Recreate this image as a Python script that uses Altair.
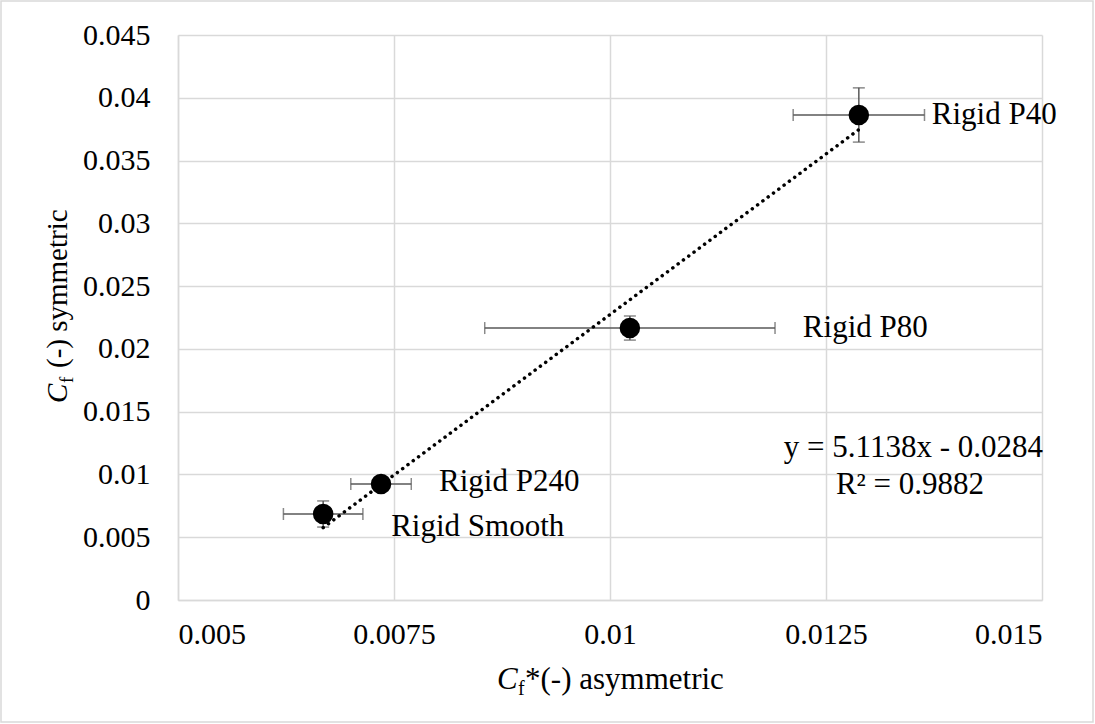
import altair as alt
import pandas as pd

# Skin-friction coefficients per surface: asymmetric (x) vs symmetric (y)
names = ["Rigid Smooth", "Rigid P240", "Rigid P80", "Rigid P40"]
cf_asym = [0.00668, 0.00735, 0.01023, 0.01288]
cf_asym_err = [0.00046, 0.00035, 0.00168, 0.00076]
cf_sym = [0.00685, 0.00924, 0.02166, 0.03863]
cf_sym_err = [0.00104, 0.00030, 0.00096, 0.00216]

# Linear trend reported with the data
slope, intercept, r2 = 5.1138, -0.0284, 0.9882

df = pd.DataFrame({
    "name": names, "x": cf_asym, "xerr": cf_asym_err,
    "y": cf_sym, "yerr": cf_sym_err,
})
df["xlo"] = df.x - df.xerr
df["xhi"] = df.x + df.xerr
df["ylo"] = df.y - df.yerr
df["yhi"] = df.y + df.yerr

trend = pd.DataFrame({"x": [min(cf_asym), max(cf_asym)]})
trend["y"] = slope * trend.x + intercept

L, T = 178, 35
W, H = 864, 565
FONT = "'Liberation Serif', 'DejaVu Serif', serif"
FS = 31
GRID = "#d9d9d9"
ERR = "#595959"

xs = alt.Scale(domain=[0.005, 0.015], nice=False, zero=False)
ys = alt.Scale(domain=[0, 0.045], nice=False)

x_axis = alt.Axis(values=[0.005, 0.0075, 0.01, 0.0125, 0.015], labelExpr="format(datum.value, '.4~f')",
                  title=None, labelPadding=19)
y_axis = alt.Axis(values=[i * 0.005 for i in range(10)], labelExpr="format(datum.value, '.3~f')",
                  title=None, labelPadding=28)

base = alt.Chart(df)
one = alt.Chart(pd.DataFrame({"k": [0]}))

frame = one.mark_rect(fill=None, stroke=GRID, strokeWidth=1.5).encode(
    x=alt.value(1 - L), x2=alt.value(1093 - L), y=alt.value(1 - T), y2=alt.value(722 - T)
)

xbars = base.mark_rule(color=ERR, strokeWidth=1.5).encode(
    x=alt.X("xlo:Q", scale=xs, axis=x_axis), x2="xhi:Q", y=alt.Y("y:Q", scale=ys, axis=y_axis)
)
xcap_lo = base.mark_tick(color=ERR, thickness=1.5, size=12, orient="vertical").encode(
    x=alt.X("xlo:Q", scale=xs), y=alt.Y("y:Q", scale=ys))
xcap_hi = base.mark_tick(color=ERR, thickness=1.5, size=12, orient="vertical").encode(
    x=alt.X("xhi:Q", scale=xs), y=alt.Y("y:Q", scale=ys))

ybars = base.mark_rule(color=ERR, strokeWidth=1.5).encode(
    x=alt.X("x:Q", scale=xs), y=alt.Y("ylo:Q", scale=ys), y2="yhi:Q")
ycap_lo = base.mark_tick(color=ERR, thickness=1.5, size=12, orient="horizontal").encode(
    x=alt.X("x:Q", scale=xs), y=alt.Y("ylo:Q", scale=ys))
ycap_hi = base.mark_tick(color=ERR, thickness=1.5, size=12, orient="horizontal").encode(
    x=alt.X("x:Q", scale=xs), y=alt.Y("yhi:Q", scale=ys))

trend_line = alt.Chart(trend).mark_line(
    color="#000", strokeWidth=3.5, strokeDash=[0.1, 6.5], strokeCap="round"
).encode(x=alt.X("x:Q", scale=xs), y=alt.Y("y:Q", scale=ys))

points = base.mark_circle(color="#000", opacity=1, size=420).encode(
    x=alt.X("x:Q", scale=xs), y=alt.Y("y:Q", scale=ys))

# Point labels, each nudged clear of its marker
offsets = {"Rigid P40": (73, 0), "Rigid P80": (173, 0), "Rigid P240": (58, -2), "Rigid Smooth": (68, 13)}
labels = []
for nm, (ddx, ddy) in offsets.items():
    labels.append(
        base.transform_filter(alt.datum.name == nm).mark_text(
            font=FONT, fontSize=FS, align="left", baseline="middle", dx=ddx, dy=ddy, color="#000"
        ).encode(x=alt.X("x:Q", scale=xs), y=alt.Y("y:Q", scale=ys), text="name:N")
    )

def txt(s, x, y, size=FS, style="normal", align="left", baseline="alphabetic", angle=0):
    return one.mark_text(
        font=FONT, fontSize=size, fontStyle=style, fontWeight="normal", align=align,
        baseline=baseline, angle=angle, color="#000"
    ).encode(x=alt.value(x), y=alt.value(y), text=alt.value(s))

eq = txt(f"y = {slope}x - {abs(intercept)}", W + 1, 413, align="right", baseline="middle")
rsq = txt(f"R² = {r2}", 732, 450, align="center", baseline="middle")

# Axis titles with italic C and subscript f
xt_y = 654
x_title = [
    txt("C", 319, xt_y, style="italic"),
    txt("f", 340, xt_y + 6, size=20),
    txt("*(-) asymmetric", 347, xt_y),
]
yt_x = 67 - L
y_title = [
    txt("C", yt_x, 368, size=29, style="italic", angle=270),
    txt("f", yt_x + 6, 348, size=19, angle=270),
    txt("(-) symmetric", yt_x, 333, size=29, angle=270),
]

chart = alt.layer(
    frame, xbars, xcap_lo, xcap_hi, ybars, ycap_lo, ycap_hi, trend_line, points,
    *labels, eq, rsq, *x_title, *y_title
).properties(
    width=W, height=H,
    padding={"left": L, "top": T, "right": 1095 - L - W, "bottom": 724 - T - H},
    autosize=alt.AutoSizeParams(type="none"),
    background="white",
).configure_view(stroke=None).configure_axis(
    grid=True, gridColor=GRID, gridWidth=1.5, domainColor=GRID, domainWidth=1.5, ticks=False,
    labelFont=FONT, labelFontSize=30, labelColor="#000",
)

chart.save("out.html", embed_options={"renderer": "svg", "actions": False})
